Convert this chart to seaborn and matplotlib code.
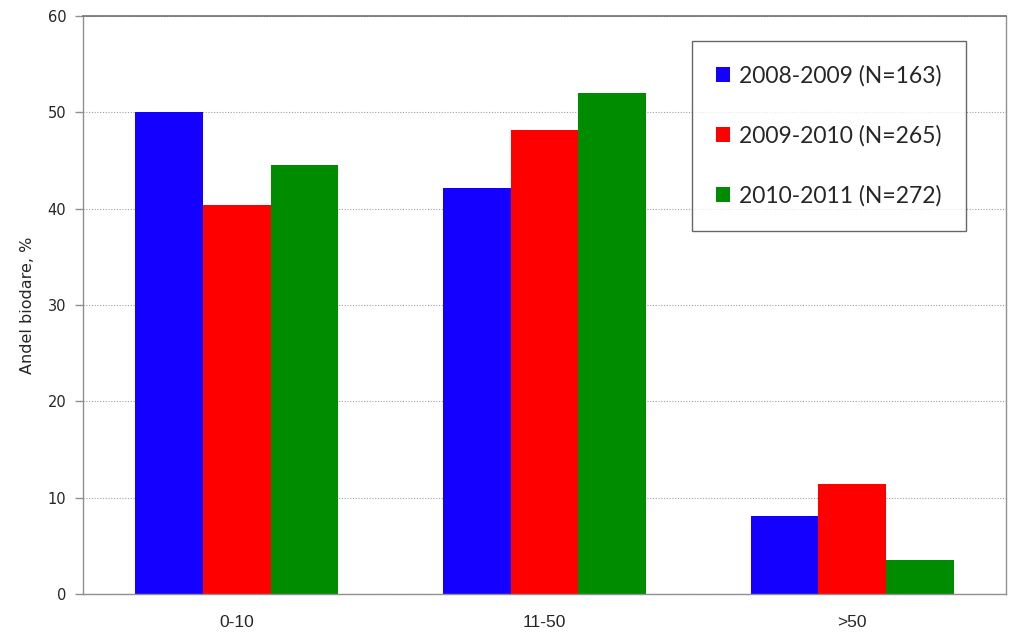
import matplotlib
matplotlib.use("Agg")
import matplotlib.pyplot as plt
import seaborn as sns
import pandas as pd
import numpy as np
from matplotlib.ticker import FixedLocator

categories = ["0-10", "11-50", ">50"]
series = ["2008-2009 (N=163)", "2009-2010 (N=265)", "2010-2011 (N=272)"]
values_2008 = [50.0, 42.1, 8.1]
values_2009 = [40.4, 48.2, 11.4]
values_2010 = [44.5, 52.0, 3.5]
colors = ["#1400ff", "#ff0000", "#008c00"]
y_label = "Andel biodare, %"
y_ticks = [0, 10, 20, 30, 40, 50, 60]

rows = []
for s, vals in zip(series, [values_2008, values_2009, values_2010]):
    for c, v in zip(categories, vals):
        rows.append({"cat": c, "series": s, "val": v})
df = pd.DataFrame(rows)

sns.set_style("white")
fig = plt.figure(figsize=(10.24, 6.33), dpi=100)
ax = fig.add_axes([83/1024, 1-594/633, (1006-83)/1024, (594-16)/633])

sns.barplot(data=df, x="cat", y="val", hue="series", order=categories,
            hue_order=series, palette=colors, width=0.66, gap=0,
            saturation=1, ax=ax, edgecolor="none", linewidth=0)

ax.set_ylim(0, 60)
ax.set_xlim(-0.5, 2.5)
ax.set_yticks(y_ticks)
ax.set_yticklabels([str(t) for t in y_ticks], fontsize=10.5, family="DejaVu Sans")
ax.set_ylabel(y_label, fontsize=11.5, family="DejaVu Sans", labelpad=9)
ax.set_xlabel("")
ax.yaxis.grid(True, linestyle=(0, (1, 1.5)), color="#a0a0a0", linewidth=0.8)
ax.set_axisbelow(True)

ax.set_xticks(range(len(categories)))
ax.set_xticklabels(categories, fontsize=12.5,
                   family=["Liberation Sans Narrow", "Liberation Sans"])
ax.xaxis.set_minor_locator(FixedLocator([-0.5, 0.5, 1.5, 2.5]))
ax.tick_params(axis="x", which="major", length=0, pad=15)
ax.tick_params(axis="x", which="minor", length=6, color="#909090", width=1, direction="out")
ax.tick_params(axis="y", length=6, color="#909090", width=1, direction="out", pad=6, left=True)

for side in ["left", "bottom", "right"]:
    ax.spines[side].set_color("#909090")
    ax.spines[side].set_linewidth(1)
ax.spines["top"].set_color("#707070")
ax.spines["top"].set_linewidth(1.2)

leg = ax.legend(loc="upper left", bbox_to_anchor=((692-83)/923, (594-41)/578),
                frameon=True, fancybox=False, labelspacing=1.68,
                handlelength=0.62, handleheight=0.62, handletextpad=0.4,
                borderpad=1.05, borderaxespad=0, prop={"family": "Lato", "size": 16.5})
leg.get_frame().set_edgecolor("#404040")
leg.get_frame().set_linewidth(1.0)

fig.savefig("out.png", dpi=100)
